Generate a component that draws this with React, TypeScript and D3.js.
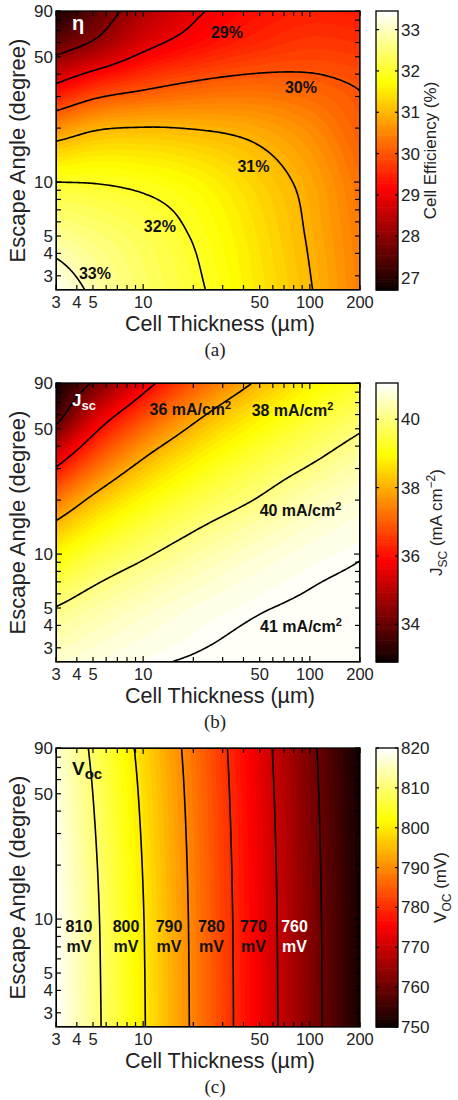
import { useMemo, type ReactNode } from 'react';
import * as d3 from 'd3';

// grid where the three maps were read, rows follow ANGLE, columns follow THICKNESS
const THICKNESS = [3, 5, 10, 20, 50, 100, 200];
const ANGLE = [2.5, 5, 10, 20, 35, 60, 90];

const EFFICIENCY = [
  [33.4, 32.9, 32.45, 32.1, 31.5, 31.03, 30.45],
  [32.72, 32.55, 32.3, 31.97, 31.42, 30.95, 30.4],
  [32.0, 31.98, 31.88, 31.7, 31.25, 30.85, 30.3],
  [30.6, 30.92, 31.02, 30.98, 30.82, 30.55, 30.1],
  [29.03, 29.5, 29.85, 30.07, 30.18, 30.12, 29.97],
  [27.6, 28.05, 28.8, 29.2, 29.55, 29.7, 29.65],
  [26.8, 27.5, 28.35, 28.9, 29.3, 29.45, 29.4],
];

const JSC = [
  [40.66, 40.81, 40.95, 41.03, 41.07, 41.08, 41.08],
  [40.02, 40.3, 40.59, 40.81, 40.98, 41.04, 41.07],
  [38.94, 39.44, 39.91, 40.29, 40.68, 40.87, 40.98],
  [37.31, 38.16, 38.97, 39.52, 40.05, 40.44, 40.71],
  [35.55, 36.75, 37.94, 38.74, 39.47, 39.89, 40.29],
  [33.6, 35.25, 36.67, 37.77, 38.77, 39.33, 39.76],
  [32.92, 34.07, 35.65, 36.91, 38.12, 38.82, 39.35],
];

const VOC = [
  [819.8, 811.8, 800.5, 789.1, 774.1, 762.8, 751.4],
  [819.66, 811.66, 800.38, 789.02, 774.04, 762.74, 751.35],
  [819.44, 811.44, 800.19, 788.89, 773.93, 762.64, 751.27],
  [818.96, 810.96, 799.78, 788.62, 773.71, 762.44, 751.1],
  [818.4, 810.4, 799.3, 788.3, 773.45, 762.2, 750.9],
  [817.7, 809.7, 798.7, 787.9, 773.13, 761.9, 750.65],
  [817.0, 809.0, 798.1, 787.5, 772.8, 761.6, 750.4],
];

const EFFICIENCY_LEVELS = [28, 29, 30, 31, 32, 33];
const JSC_LEVELS = [34, 36, 38, 40, 41];
const VOC_LEVELS = [760, 770, 780, 790, 800, 810];

const EFFICIENCY_RANGE: [number, number] = [26.7, 33.45];
const JSC_RANGE: [number, number] = [32.9, 41.06];
const VOC_RANGE: [number, number] = [750, 820];

const EFFICIENCY_TICKS = [27, 28, 29, 30, 31, 32, 33];
const JSC_TICKS = [34, 36, 38, 40];
const VOC_TICKS = [750, 760, 770, 780, 790, 800, 810, 820];

const X_TICK_LABELS = [3, 4, 5, 10, 50, 100, 200];
const Y_TICK_LABELS = [3, 4, 5, 10, 50, 90];

// contour labels: level, thickness, angle
const EFFICIENCY_LABELS = [
  { level: 29, t: 31.8, a: 68 },
  { level: 30, t: 88.5, a: 33.7 },
  { level: 31, t: 45.9, a: 12.3 },
  { level: 32, t: 12.6, a: 5.65 },
  { level: 33, t: 5.14, a: 3.11 },
];
const JSC_LABELS = [
  { level: 36, t: 19.2, a: 64.4 },
  { level: 38, t: 78.7, a: 63.6 },
  { level: 40, t: 87.9, a: 17.5 },
  { level: 41, t: 88.5, a: 3.97 },
];
const VOC_LABELS = [
  { level: 810, t: 4.12, a: 9.09 },
  { level: 800, t: 7.89, a: 9.09 },
  { level: 790, t: 14.3, a: 9.09 },
  { level: 780, t: 25.7, a: 9.09 },
  { level: 770, t: 45.9, a: 9.09 },
  { level: 760, t: 80.9, a: 9.09 },
];

const W = 458;
const H = 1100;
const X0 = 56;
const X1 = 360;
const PH = 279;
const CB0 = 376;
const CB1 = 398;
const NX = 152;
const NY = 140;
const BANDS = 64;
const SANS = "'Liberation Sans', Arial, Helvetica, sans-serif";
const SERIF = "'Liberation Serif', 'Times New Roman', serif";

// MATLAB "hot"
function hot(f: number) {
  const k = Math.max(0, Math.min(1, f)) * 63;
  const r = Math.min(1, (k + 1) / 24);
  const g = Math.max(0, Math.min(1, (k - 23) / 24));
  const b = Math.max(0, Math.min(1, (k - 47) / 16));
  return d3.rgb(r * 255, g * 255, b * 255).formatHex();
}

function hermite(xs: number[], ys: number[], x: number) {
  const n = xs.length;
  let k = 0;
  while (k < n - 2 && x > xs[k + 1]) k++;
  const slope = (i: number) => {
    if (i === 0) return (ys[1] - ys[0]) / (xs[1] - xs[0]);
    if (i === n - 1) return (ys[n - 1] - ys[n - 2]) / (xs[n - 1] - xs[n - 2]);
    const h0 = xs[i] - xs[i - 1];
    const h1 = xs[i + 1] - xs[i];
    const d0 = (ys[i] - ys[i - 1]) / h0;
    const d1 = (ys[i + 1] - ys[i]) / h1;
    return (d0 * h1 + d1 * h0) / (h0 + h1);
  };
  const h = xs[k + 1] - xs[k];
  const s = Math.max(0, Math.min(1, (x - xs[k]) / h));
  const s2 = s * s;
  const s3 = s2 * s;
  return (
    (2 * s3 - 3 * s2 + 1) * ys[k] +
    (s3 - 2 * s2 + s) * h * slope(k) +
    (-2 * s3 + 3 * s2) * ys[k + 1] +
    (s3 - s2) * h * slope(k + 1)
  );
}

type Label = { level: number; t: number; a: number };

type PanelProps = {
  id: string;
  top: number;
  grid: number[][];
  range: [number, number];
  levels: number[];
  cbTicks: number[];
  labels: Label[];
  renderLabel: (l: Label, px: number, py: number, light: boolean) => ReactNode;
  title: ReactNode;
  cbLabel: ReactNode;
  cbLabelX: number;
  caption: string;
};

function Panel({
  id,
  top,
  grid,
  range,
  levels,
  cbTicks,
  labels,
  renderLabel,
  title,
  cbLabel,
  cbLabelX,
  caption,
}: PanelProps) {
  const bottom = top + PH;
  const x = d3.scaleLog().domain([3, 200]).range([X0, X1]);
  const y = d3.scaleLog().domain([2.5, 90]).range([bottom, top]);
  const c = d3.scaleLinear().domain(range).range([bottom, top]);
  const frac = (v: number) => (v - range[0]) / (range[1] - range[0]);

  const { bands, lines } = useMemo(() => {
    const lx = THICKNESS.map(Math.log10);
    const ly = ANGLE.map(Math.log10);
    const values = new Array(NX * NY);
    for (let i = 0; i < NX; i++) {
      const u = Math.log10(x.invert(X0 + ((i + 0.5) * (X1 - X0)) / NX));
      const col = grid.map((row) => hermite(lx, row, u));
      for (let j = 0; j < NY; j++) {
        const v = Math.log10(y.invert(top + ((j + 0.5) * PH) / NY));
        values[j * NX + i] = hermite(ly, col, v);
      }
    }
    const sx = (X1 - X0) / NX;
    const sy = PH / NY;
    const proj = d3.geoTransform({
      point(this: any, px: number, py: number) {
        this.stream.point(X0 + px * sx, top + py * sy);
      },
    });
    const path = d3.geoPath(proj);
    const step = (range[1] - range[0]) / BANDS;
    const thresholds = d3.range(1, BANDS).map((k) => range[0] + k * step);
    const bandShapes = d3
      .contours()
      .size([NX, NY])
      .thresholds(thresholds)(values)
      .map((g) => ({ d: path(g) || '', fill: hot(frac(g.value) + 0.5 / BANDS) }));
    const lineShapes = d3
      .contours()
      .size([NX, NY])
      .thresholds(levels)(values)
      .map((g) => path(g) || '');
    return { bands: bandShapes, lines: lineShapes };
  }, [grid, top]);

  const cbSteps = d3.range(128);
  const tickLen = (v: number) => (Math.abs(Math.log10(v) % 1) < 1e-9 ? 6 : 5);

  return (
    <g>
      <defs>
        <clipPath id={`clip-${id}`}>
          <rect x={X0} y={top} width={X1 - X0} height={PH} />
        </clipPath>
      </defs>
      <g clipPath={`url(#clip-${id})`}>
        <rect x={X0} y={top} width={X1 - X0} height={PH} fill={hot(0.5 / BANDS)} />
        {bands.map((b, i) => (
          <path key={i} d={b.d} fill={b.fill} stroke={b.fill} strokeWidth={0.3} />
        ))}
        {lines.map((d, i) => (
          <path key={i} d={d} fill="none" stroke="#000" strokeWidth={1.6} strokeLinejoin="round" />
        ))}
      </g>
      {labels.map((l) => renderLabel(l, x(l.t), y(l.a), frac(l.level) < 0.2))}
      {title}

      {/* axes box and inward ticks on all four sides */}
      <rect x={X0} y={top} width={X1 - X0} height={PH} fill="none" stroke="#000" strokeWidth={1.3} />
      {x.ticks().map((v) => (
        <g key={`x${v}`} stroke="#000" strokeWidth={1.2}>
          <line x1={x(v)} x2={x(v)} y1={bottom} y2={bottom - tickLen(v)} />
          <line x1={x(v)} x2={x(v)} y1={top} y2={top + tickLen(v)} />
        </g>
      ))}
      {y.ticks().map((v) => (
        <g key={`y${v}`} stroke="#000" strokeWidth={1.2}>
          <line x1={X0} x2={X0 + tickLen(v)} y1={y(v)} y2={y(v)} />
          <line x1={X1} x2={X1 - tickLen(v)} y1={y(v)} y2={y(v)} />
        </g>
      ))}
      {X_TICK_LABELS.map((v) => (
        <text key={`xl${v}`} x={x(v)} y={bottom + 18} textAnchor="middle" fontSize={16.5} fill="#222">
          {v}
        </text>
      ))}
      {Y_TICK_LABELS.map((v) => (
        <text key={`yl${v}`} x={53} y={y(v)} dy="0.35em" textAnchor="end" fontSize={17} fill="#222">
          {v}
        </text>
      ))}
      <text x={220} y={bottom + 41} textAnchor="middle" fontSize={21.5} fill="#222">
        Cell Thickness (µm)
      </text>
      <text
        transform={`translate(25,${(top + bottom) / 2}) rotate(-90)`}
        textAnchor="middle"
        fontSize={22}
        fill="#222"
      >
        Escape Angle (degree)
      </text>

      {/* colorbar */}
      {cbSteps.map((k) => {
        const v0 = range[0] + ((range[1] - range[0]) * k) / cbSteps.length;
        const v1 = range[0] + ((range[1] - range[0]) * (k + 1)) / cbSteps.length;
        return (
          <rect
            key={`cb${k}`}
            x={CB0}
            y={c(v1)}
            width={CB1 - CB0}
            height={c(v0) - c(v1) + 0.6}
            fill={hot((k + 0.5) / cbSteps.length)}
          />
        );
      })}
      <rect x={CB0} y={top} width={CB1 - CB0} height={PH} fill="none" stroke="#000" strokeWidth={1.3} />
      {cbTicks.map((v) => (
        <g key={`ct${v}`}>
          <line x1={CB0} x2={CB0 + 3} y1={c(v)} y2={c(v)} stroke="#000" strokeWidth={1.2} />
          <line x1={CB1} x2={CB1 - 3} y1={c(v)} y2={c(v)} stroke="#000" strokeWidth={1.2} />
          <text x={401} y={c(v)} dy="0.35em" fontSize={17} fill="#222">
            {v}
          </text>
        </g>
      ))}
      <text
        transform={`translate(${cbLabelX},${(top + bottom) / 2}) rotate(-90)`}
        textAnchor="middle"
        fontSize={17}
        fill="#222"
      >
        {cbLabel}
      </text>
      <text x={215} y={top + 345} textAnchor="middle" fontSize={19} fontFamily={SERIF} fill="#222">
        {caption}
      </text>
    </g>
  );
}

export default function App() {
  return (
    <svg
      width={W}
      height={H}
      fontFamily={SANS}
      style={{ position: 'absolute', left: 0, top: 0, background: '#fff' }}
    >
      <Panel
        id="eta"
        top={11}
        grid={EFFICIENCY}
        range={EFFICIENCY_RANGE}
        levels={EFFICIENCY_LEVELS}
        cbTicks={EFFICIENCY_TICKS}
        labels={EFFICIENCY_LABELS}
        renderLabel={(l, px, py) => (
          <text key={l.level} x={px} y={py} dy="0.35em" textAnchor="middle" fontSize={16} fontWeight="bold" fill="#111">
            {`${l.level}%`}
          </text>
        )}
        title={
          <text x={72} y={30} fontSize={20} fontWeight="bold" fill="#fff">
            η
          </text>
        }
        cbLabel="Cell Efficiency (%)"
        cbLabelX={436}
        caption="(a)"
      />
      <Panel
        id="jsc"
        top={383}
        grid={JSC}
        range={JSC_RANGE}
        levels={JSC_LEVELS}
        cbTicks={JSC_TICKS}
        labels={JSC_LABELS}
        renderLabel={(l, px, py) => (
          <text key={l.level} x={px} y={py} dy="0.35em" textAnchor="middle" fontSize={16} fontWeight="bold" fill="#111">
            {`${l.level} mA/cm`}
            <tspan dy={-6} fontSize={11}>
              2
            </tspan>
          </text>
        )}
        title={
          <text x={72} y={406} fontSize={17} fontWeight="bold" fill="#fff">
            J
            <tspan dy={4} fontSize={13}>
              sc
            </tspan>
          </text>
        }
        cbLabel={
          <>
            J
            <tspan dy={5} fontSize={12}>
              SC
            </tspan>
            <tspan dy={-5}> (mA cm</tspan>
            <tspan dy={-7} fontSize={12}>
              −2
            </tspan>
            <tspan dy={7}>)</tspan>
          </>
        }
        cbLabelX={442}
        caption="(b)"
      />
      <Panel
        id="voc"
        top={748}
        grid={VOC}
        range={VOC_RANGE}
        levels={VOC_LEVELS}
        cbTicks={VOC_TICKS}
        labels={VOC_LABELS}
        renderLabel={(l, px, py, light) => (
          <g key={l.level} fontSize={16} fontWeight="bold" fill={light ? '#fff' : '#111'} textAnchor="middle">
            <text x={px} y={py} dy="0.35em">
              {l.level}
            </text>
            <text x={px} y={py + 20} dy="0.35em">
              mV
            </text>
          </g>
        )}
        title={
          <text x={72} y={775} fontSize={19} fontWeight="bold" fill="#111">
            V
            <tspan dy={4} fontSize={15}>
              oc
            </tspan>
          </text>
        }
        cbLabel={
          <>
            V
            <tspan dy={5} fontSize={12}>
              OC
            </tspan>
            <tspan dy={-5}> (mV)</tspan>
          </>
        }
        cbLabelX={446}
        caption="(c)"
      />
    </svg>
  );
}
